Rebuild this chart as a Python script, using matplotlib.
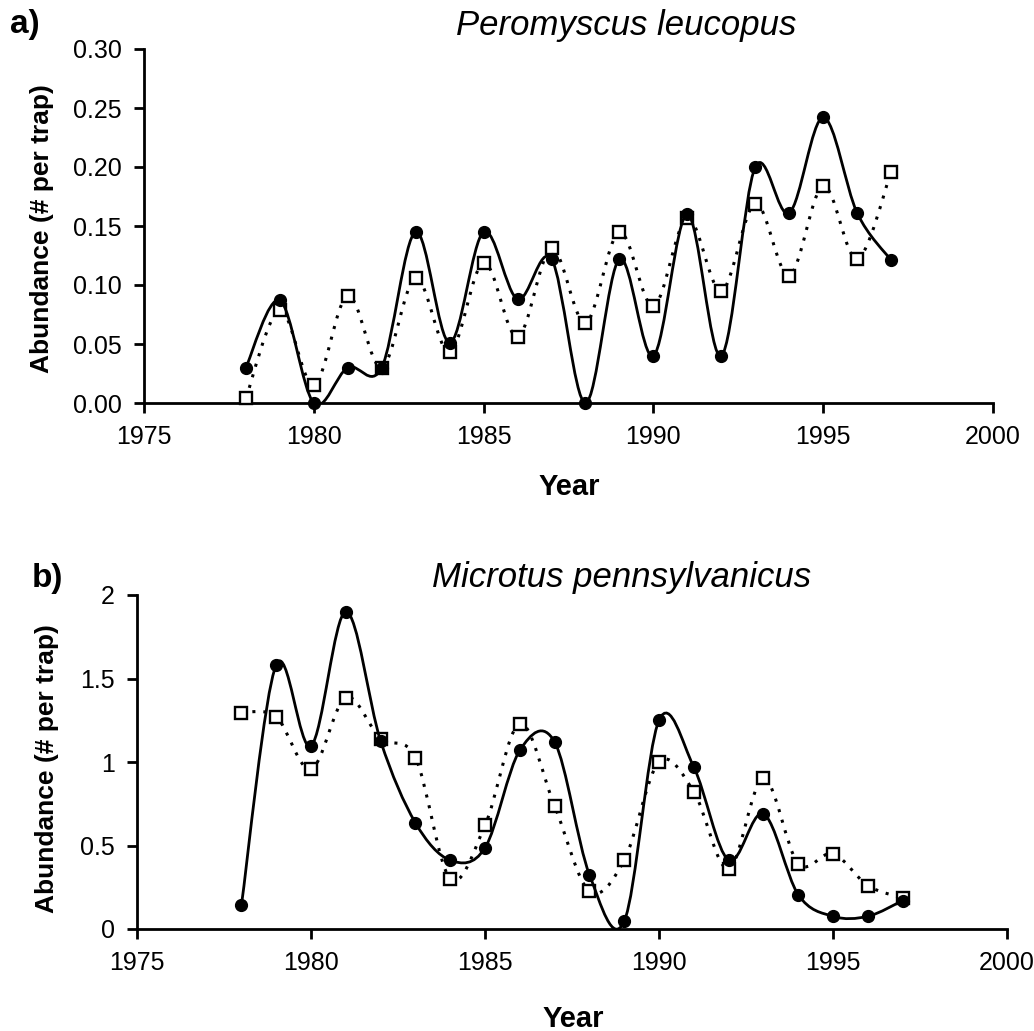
import matplotlib
matplotlib.use("Agg")
import matplotlib.pyplot as plt
from matplotlib.path import Path
from matplotlib.patches import PathPatch
import numpy as np

plt.rcParams['font.family'] = ['Liberation Sans', 'DejaVu Sans']

years = list(range(1978, 1998))

# Panel a) Peromyscus leucopus
pero_solid = [0.030, 0.087, 0.000, 0.030, 0.030, 0.145, 0.051, 0.145, 0.088, 0.122,
              0.000, 0.122, 0.040, 0.160, 0.040, 0.200, 0.161, 0.242, 0.161, 0.121]
pero_open = [0.004, 0.079, 0.015, 0.091, 0.030, 0.106, 0.043, 0.119, 0.056, 0.131,
             0.068, 0.145, 0.082, 0.157, 0.095, 0.169, 0.108, 0.184, 0.122, 0.196]

# Panel b) Microtus pennsylvanicus
micro_solid = [0.142, 1.582, 1.096, 1.900, 1.126, 0.636, 0.412, 0.486, 1.070, 1.120,
               0.326, 0.046, 1.250, 0.970, 0.412, 0.690, 0.206, 0.076, 0.076, 0.170]
micro_open = [1.296, 1.270, 0.956, 1.386, 1.140, 1.026, 0.300, 0.620, 1.230, 0.736,
              0.226, 0.412, 1.000, 0.822, 0.360, 0.902, 0.392, 0.452, 0.260, 0.186]

yt_a = [0.00, 0.05, 0.10, 0.15, 0.20, 0.25, 0.30]
yt_a_lab = ["0.00", "0.05", "0.10", "0.15", "0.20", "0.25", "0.30"]
yt_b = [0, 0.5, 1, 1.5, 2]
yt_b_lab = ["0", "0.5", "1", "1.5", "2"]
xt = [1975, 1980, 1985, 1990, 1995, 2000]


def smooth_path(x, y):
    x = np.asarray(x, float)
    y = np.asarray(y, float)
    P = np.column_stack([x, y])
    n = len(P)
    verts = [P[0]]
    codes = [Path.MOVETO]
    for i in range(n - 1):
        p0 = P[i - 1] if i > 0 else P[i]
        p1 = P[i]
        p2 = P[i + 1]
        p3 = P[i + 2] if i + 2 < n else P[i + 1]
        c1 = p1 + (p2 - p0) / 6.0
        c2 = p2 - (p3 - p1) / 6.0
        verts += [c1, c2, p2]
        codes += [Path.CURVE4] * 3
    return Path(verts, codes)


def draw_series(ax, solid, opn):
    pd = PathPatch(smooth_path(years, opn), facecolor='none', edgecolor='black',
                   lw=2.2, linestyle=(0, (1, 2.6)), zorder=2)
    ax.add_patch(pd)
    ax.plot(years, opn, linestyle='none', marker='s', markersize=8,
            markerfacecolor='white', markeredgecolor='black', markeredgewidth=1.7,
            zorder=3, clip_on=False)
    ps = PathPatch(smooth_path(years, solid), facecolor='none', edgecolor='black',
                   lw=2.0, zorder=4)
    ax.add_patch(ps)
    ax.plot(years, solid, linestyle='none', marker='o', markersize=8.5,
            markerfacecolor='black', markeredgecolor='black', zorder=5, clip_on=False)


def style_axes(ax, yt, ylab):
    for s in ['top', 'right']:
        ax.spines[s].set_visible(False)
    for s in ['left', 'bottom']:
        ax.spines[s].set_linewidth(2.0)
    ax.set_xlim(1975, 2000)
    ax.set_xticks(xt)
    ax.set_xticklabels([str(v) for v in xt])
    ax.set_yticks(yt)
    ax.set_yticklabels(ylab)
    ax.tick_params(direction='out', length=7, width=2.0, labelsize=18, pad=9)
    ax.patch.set_visible(False)


W, H = 1034, 1031
fig = plt.figure(figsize=(W / 100, H / 100), dpi=100)

ax1 = fig.add_axes([144 / W, 1 - 403 / H, (993 - 144) / W, (403 - 49) / H])
ax1.set_ylim(0, 0.30)
draw_series(ax1, pero_solid, pero_open)
style_axes(ax1, yt_a, yt_a_lab)

ax2 = fig.add_axes([137 / W, 1 - 929 / H, (1007 - 137) / W, (929 - 595) / H])
ax2.set_ylim(0, 2)
draw_series(ax2, micro_solid, micro_open)
style_axes(ax2, yt_b, yt_b_lab)

# Titles
fig.text(626 / W, 1 - 35 / H, "Peromyscus leucopus", style='italic', fontsize=25,
         ha='center', va='baseline')
fig.text(622 / W, 1 - 587 / H, "Microtus pennsylvanicus", style='italic', fontsize=25,
         ha='center', va='baseline')

# Panel labels
fig.text(10 / W, 1 - 33 / H, "a)", fontweight='bold', fontsize=24, ha='left', va='baseline')
fig.text(32 / W, 1 - 587 / H, "b)", fontweight='bold', fontsize=24, ha='left', va='baseline')

# Y labels
fig.text(42 / W, 1 - 229 / H, "Abundance (# per trap)", fontweight='bold', fontsize=19,
         rotation=90, ha='center', va='center')
fig.text(47 / W, 1 - 769 / H, "Abundance (# per trap)", fontweight='bold', fontsize=19,
         rotation=90, ha='center', va='center')

# X labels
fig.text(569 / W, 1 - 495 / H, "Year", fontweight='bold', fontsize=21, ha='center', va='baseline')
fig.text(573 / W, 1 - 1027 / H, "Year", fontweight='bold', fontsize=21, ha='center', va='baseline')

fig.savefig("out.png", dpi=100, facecolor='white')
